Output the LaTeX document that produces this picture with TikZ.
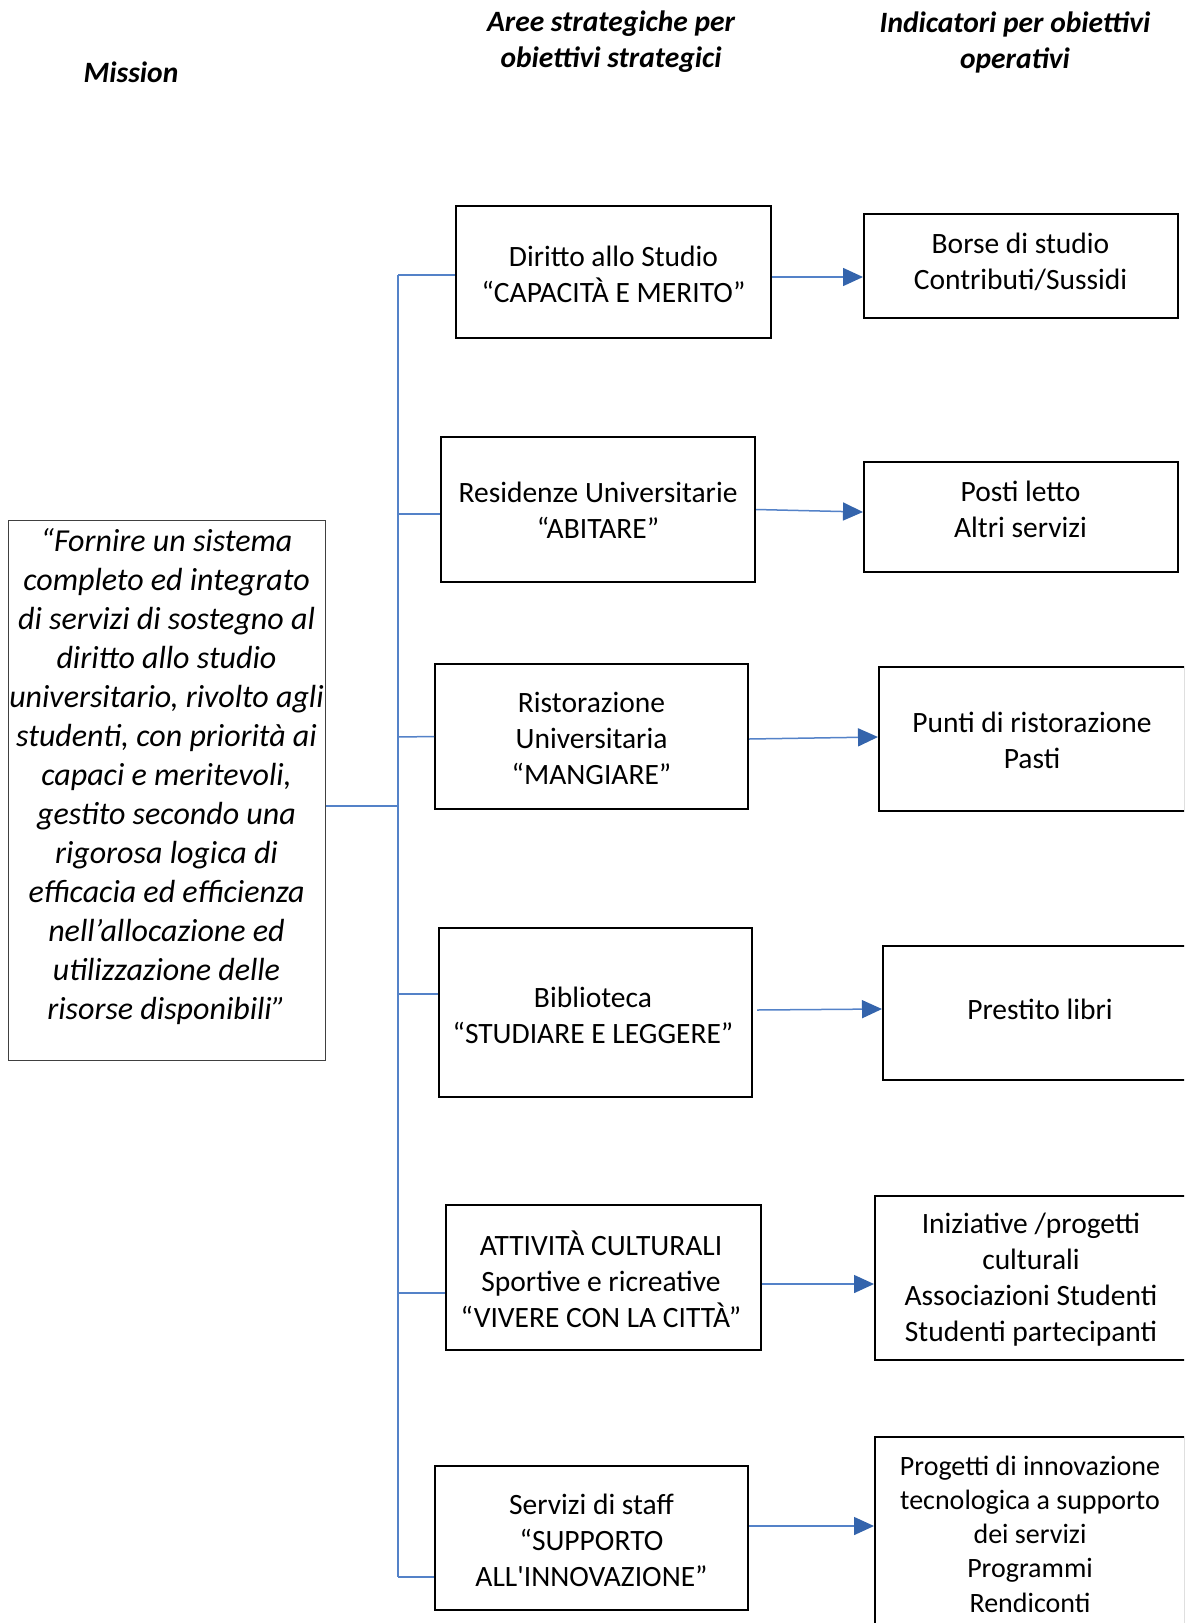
\documentclass[tikz,border=0pt]{standalone}
\usepackage{fontspec}
\setmainfont{Carlito}
\usetikzlibrary{arrows.meta}
\definecolor{linkblue}{RGB}{84,130,200}
\definecolor{headblue}{RGB}{52,100,172}
\newcommand{\straightapos}{\XeTeXglyph\the\XeTeXcharglyph"0027\relax}
\tikzset{
  frame/.style={draw=black, line width=2pt, inner sep=0pt},
  lbl/.style={inner sep=0pt, align=center, font=\fontsize{29.5}{36}\selectfont},
  link/.style={draw=linkblue, line width=1.5pt},
  arr/.style={draw=linkblue, line width=1.5pt,
    -{Triangle[length=20pt,width=18pt,color=headblue,fill=headblue]}},
  head/.style={align=center, font=\fontsize{29.5}{36}\selectfont\bfseries\itshape}
}
\begin{document}
\begin{tikzpicture}[x=1pt,y=-1pt]
\useasboundingbox (0,0) rectangle (1184,1623);
\clip (0,0) rectangle (1184,1623);
\fill[white] (0,0) rectangle (1184,1623);
% headers
\node[head] (hm) at (131,72) {Mission};
\node[head] (ha) at (611,42) {Aree strategiche per\\obiettivi strategici};
\node[head] (hi) at (1015,42) {Indicatori per obiettivi\\operativi};
% mission
\node[draw=black!75, line width=1pt, minimum width=317pt, minimum height=540pt, inner sep=0pt] (mission) at (166.5,790) {};
\node[align=center, inner sep=0pt, font=\fontsize{32}{39}\selectfont\itshape] (missiontxt) at (166.5,777)
 {“Fornire un sistema\\completo ed integrato\\di servizi di sostegno al\\diritto allo studio\\universitario, rivolto agli\\studenti, con priorità ai\\capaci e meritevoli,\\gestito secondo una\\rigorosa logica di\\efficacia ed efficienza\\nell’allocazione ed\\utilizzazione delle\\risorse disponibili”};
% areas
\node[frame, minimum width=315pt, minimum height=132pt] (d1) at (613.5,272) {};
\node[lbl] (d1t) at (613.5,274.5) {Diritto allo Studio\\“CAPACITÀ E MERITO”};
\node[frame, minimum width=314pt, minimum height=145pt] (d2) at (598,509.5) {};
\node[lbl] (d2t) at (598,510.5) {Residenze Universitarie\\“ABITARE”};
\node[frame, minimum width=313pt, minimum height=145pt] (d3) at (591.5,736.5) {};
\node[lbl] (d3t) at (591.5,738.5) {Ristorazione\\Universitaria\\“MANGIARE”};
\node[frame, minimum width=313pt, minimum height=169pt] (d4) at (595.5,1012.5) {};
\node[lbl] (d4t) at (593,1015) {Biblioteca\\“STUDIARE E LEGGERE”};
\node[frame, minimum width=315pt, minimum height=145pt] (d5) at (603.5,1277.5) {};
\node[lbl] (d5t) at (601,1279) {ATTIVITÀ CULTURALI\\Sportive e ricreative\\“VIVERE CON LA CITTÀ”};
\node[frame, minimum width=313pt, minimum height=144pt] (d6) at (591.5,1538) {};
\node[lbl] (d6t) at (591.5,1540.5) {Servizi di staff\\“SUPPORTO\\ALL\straightapos INNOVAZIONE”};
% indicators
\node[frame, minimum width=314pt, minimum height=104pt] (i1) at (1021,266) {};
\node[lbl] (i1t) at (1020.5,262) {Borse di studio\\Contributi/Sussidi};
\node[frame, minimum width=314pt, minimum height=110pt] (i2) at (1021,517) {};
\node[lbl] (i2t) at (1020.5,509) {Posti letto\\Altri servizi};
\node[frame, minimum width=306pt, minimum height=144pt] (i3) at (1032,739) {};
\node[lbl] (i3t) at (1032,740.5) {Punti di ristorazione\\Pasti};
\node[frame, minimum width=314pt, minimum height=134pt] (i4) at (1040,1013) {};
\node[lbl] (i4t) at (1040,1009) {Prestito libri};
\node[frame, minimum width=312pt, minimum height=164pt] (i5) at (1031,1278) {};
\node[lbl] (i5t) at (1031,1279.5) {Iniziative /progetti\\culturali\\Associazioni Studenti\\Studenti partecipanti};
\node[frame, minimum width=310pt, minimum height=194pt] (i6) at (1030,1534) {};
\node[lbl, font=\fontsize{28}{34.2}\selectfont] (i6t) at (1030,1534) {Progetti di innovazione\\tecnologica a supporto\\dei servizi\\Programmi\\Rendiconti};
% tree
\coordinate (top) at (398,275);
\coordinate (bot) at (398,1577);
\coordinate (join) at (398,806);
\draw[link] (top) -- (bot);
\draw[link] ([yshift=-16pt]mission.east) -- (join);
\draw[link] (top) -- ([yshift=-3pt]d1.west);
\draw[link] (398,514) -- ([yshift=-4.5pt]d2.west);
\draw[link] (398,737) -- (d3.west);
\draw[link] (398,994) -- ([yshift=18.5pt]d4.west);
\draw[link] (398,1293) -- ([yshift=-15.5pt]d5.west);
\draw[link] (bot) -- ([yshift=-39pt]d6.west);
% arrows
\draw[arr] ([yshift=-5pt]d1.east) -- ([yshift=-11pt]i1.west);
\draw[arr] (d2.east) -- ([yshift=5pt]i2.west);
\draw[arr] ([yshift=-2.5pt]d3.east) -- ([yshift=2pt]i3.west);
\draw[arr] ([xshift=4pt,yshift=2.5pt]d4.east) -- ([yshift=4pt]i4.west);
\draw[arr] ([yshift=-6.5pt]d5.east) -- ([yshift=-6pt]i5.west);
\draw[arr] ([yshift=12pt]d6.east) -- ([yshift=8pt]i6.west);
\end{tikzpicture}
\end{document}
